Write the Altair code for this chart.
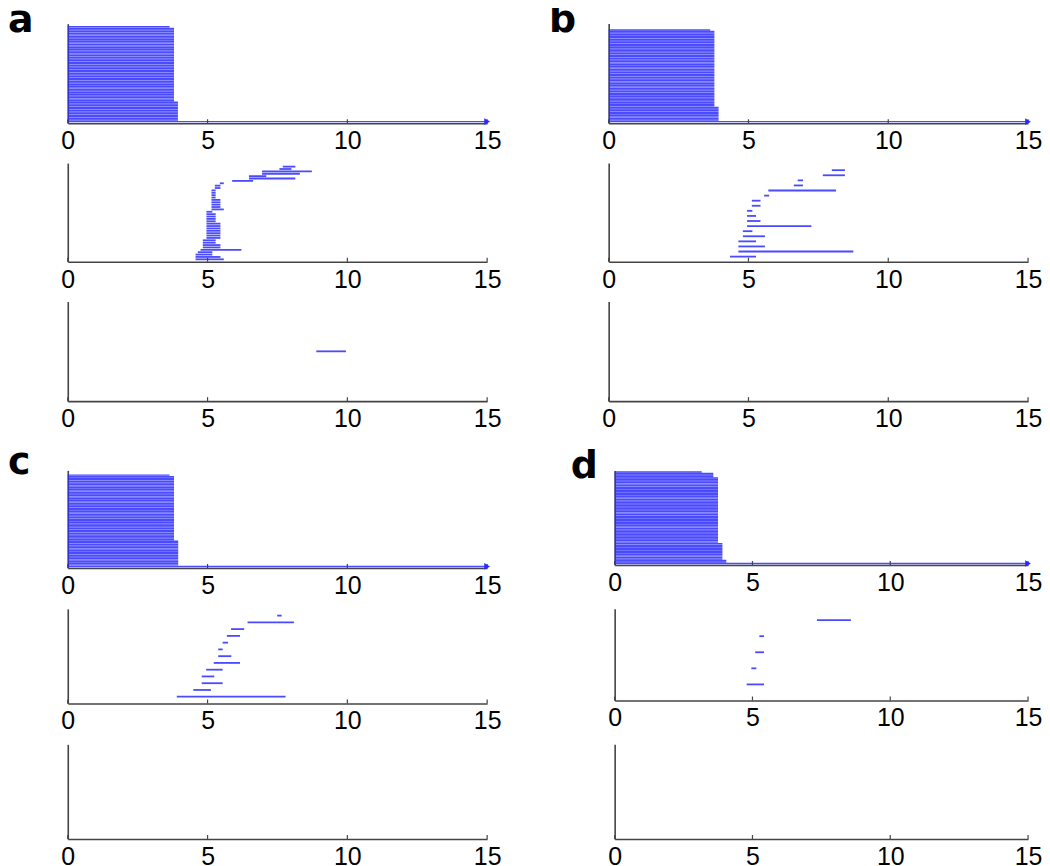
import altair as alt
import pandas as pd

X_TICKS = [0, 5, 10, 15]

# ---------- panel a ----------
# top raster: each row runs from 0 to its end value (rows listed bottom -> top)
A1_END = [15.0,
          3.94, 3.94, 3.94, 3.94, 3.94, 3.94, 3.94, 3.94, 3.94, 3.94, 3.94, 3.94,
          3.80, 3.80, 3.80, 3.80, 3.80, 3.80, 3.80, 3.80, 3.80, 3.80,
          3.80, 3.80, 3.80, 3.80, 3.80, 3.80, 3.80, 3.80, 3.80, 3.80,
          3.80, 3.80, 3.80, 3.80, 3.80, 3.80, 3.80, 3.80, 3.80, 3.80,
          3.80, 3.80, 3.80, 3.80, 3.80, 3.80, 3.80, 3.80, 3.80, 3.80,
          3.80, 3.80, 3.80, 3.80, 3.80, 3.80,
          3.64]
A2_START = [4.57, 4.57, 4.57, 4.65, 4.75, 4.83, 4.83, 4.83, 4.83, 4.96,
            4.96, 4.96, 4.96, 4.96, 4.96, 4.96, 4.96, 4.96, 4.96, 4.96,
            4.96, 5.14, 5.14, 5.14, 5.14, 5.14, 5.14, 5.14, 5.14, 5.14,
            5.26, 5.26, 5.44, 5.88, 6.48, 6.48, 6.95, 6.95, 7.57, 7.69]
A2_END = [5.58, 5.46, 5.17, 5.17, 6.21, 5.46, 5.46, 5.29, 5.29, 5.46,
          5.46, 5.46, 5.46, 5.46, 5.46, 5.46, 5.29, 5.29, 5.29, 5.29,
          5.17, 5.58, 5.46, 5.46, 5.46, 5.46, 5.29, 5.29, 5.29, 5.29,
          5.46, 5.46, 5.58, 6.63, 8.14, 7.10, 8.30, 8.73, 8.00, 8.14]
A3_START = [8.89]
A3_END = [9.95]

# ---------- panel b ----------
B1_END = [15.0,
          3.93, 3.93, 3.93, 3.93, 3.93, 3.93, 3.93, 3.93, 3.93,
          3.78, 3.78, 3.78, 3.78, 3.78, 3.78, 3.78, 3.78, 3.78, 3.78,
          3.78, 3.78, 3.78, 3.78, 3.78, 3.78, 3.78, 3.78, 3.78, 3.78,
          3.78, 3.78, 3.78, 3.78, 3.78, 3.78, 3.78, 3.78, 3.78, 3.78,
          3.78, 3.78, 3.78, 3.78, 3.78, 3.78, 3.78, 3.78, 3.78, 3.78,
          3.78, 3.78, 3.78, 3.78, 3.78, 3.78, 3.78, 3.78,
          3.63]
B2_START = [4.34, 4.64, 4.64, 4.64, 4.80, 4.80, 4.95, 4.95, 4.95, 4.95,
            5.12, 5.12, 5.56, 5.71, 6.62, 6.76, 7.66, 7.98]
B2_END = [5.27, 8.75, 5.59, 5.27, 5.59, 5.14, 7.25, 5.43, 5.27, 5.14,
          5.43, 5.43, 5.74, 8.13, 6.95, 6.95, 8.45, 8.45]
B3_START = []
B3_END = []

# ---------- panel c ----------
C1_END = [15.0,
          3.95, 3.95, 3.95, 3.95, 3.95, 3.95, 3.95, 3.95,
          3.95, 3.95, 3.95, 3.95, 3.95, 3.95, 3.95, 3.95,
          3.80, 3.80, 3.80, 3.80, 3.80, 3.80, 3.80, 3.80, 3.80, 3.80,
          3.80, 3.80, 3.80, 3.80, 3.80, 3.80, 3.80, 3.80, 3.80, 3.80,
          3.80, 3.80, 3.80, 3.80, 3.80, 3.80, 3.80, 3.80, 3.80, 3.80,
          3.80, 3.80, 3.80, 3.80, 3.80, 3.80, 3.80, 3.80, 3.80, 3.80,
          3.80,
          3.64]
C2_START = [3.90, 4.49, 4.79, 4.79, 4.95, 5.22, 5.38, 5.38, 5.54, 5.69,
            5.84, 6.43, 7.49]
C2_END = [7.79, 5.12, 5.54, 5.24, 5.54, 6.16, 5.85, 5.54, 5.73, 6.16,
          6.31, 8.09, 7.65]
C3_START = []
C3_END = []

# ---------- panel d ----------
D1_END = [15.0,
          4.05, 4.05,
          3.91, 3.91, 3.91, 3.91, 3.91, 3.91, 3.91, 3.91, 3.91, 3.91, 3.91,
          3.75, 3.75, 3.75, 3.75, 3.75, 3.75, 3.75, 3.75, 3.75, 3.75,
          3.75, 3.75, 3.75, 3.75, 3.75, 3.75, 3.75, 3.75, 3.75, 3.75,
          3.75, 3.75, 3.75, 3.75, 3.75, 3.75, 3.75, 3.75, 3.75, 3.75,
          3.75, 3.75, 3.75, 3.75, 3.75, 3.75, 3.75, 3.75, 3.75, 3.75,
          3.75, 3.75, 3.75,
          3.58, 3.58, 3.58,
          3.16]
D2_START = [4.79, 4.96, 5.10, 5.25, 7.34]
D2_END = [5.42, 5.14, 5.42, 5.42, 8.57]
D3_START = []
D3_END = []

BLUE = "#2a2aff"
AXIS_COLOR = "#444444"
LETTER_SIZE = 38


def subplot(starts, ends, ymax, width, height, dense=False, letter=None,
            letter_dx=-60, letter_dy=8):
    rows = list(range(1, len(ends) + 1))
    seg = pd.DataFrame({"start": [float(s) for s in starts],
                        "end": [float(e) for e in ends],
                        "row": rows})
    xscale = alt.Scale(domain=[0, 15], nice=False, zero=False)
    yscale = alt.Scale(domain=[0, ymax], nice=False, zero=False)
    xaxis = alt.Axis(values=X_TICKS, title=None, grid=False, ticks=False,
                     tickSize=0, labelPadding=5.5, labelFontSize=25,
                     labelFont="Liberation Sans", labelColor="black",
                     domainColor=AXIS_COLOR, domainWidth=1.6, labelFlush=False)
    yaxis = alt.Axis(title=None, grid=False, ticks=False, labels=False,
                     domainColor=AXIS_COLOR, domainWidth=1.6)

    tick_df = pd.DataFrame({"t": X_TICKS})
    ticks = alt.Chart(tick_df).mark_rule(color=AXIS_COLOR, strokeWidth=1.2).encode(
        x=alt.X("t:Q", scale=xscale, axis=xaxis),
        y=alt.value(height),
        y2=alt.value(height - 4),
    )
    segs = alt.Chart(seg).mark_rule(
        color=BLUE,
        strokeWidth=1.45 if dense else 1.8,
        opacity=0.85,
    ).encode(
        x=alt.X("start:Q", scale=xscale, axis=xaxis),
        x2="end:Q",
        y=alt.Y("row:Q", scale=yscale, axis=yaxis),
    )
    layers = [ticks, segs]
    if dense:
        arrow = alt.Chart(pd.DataFrame({"x": [ends[0]], "row": [1]})).mark_point(
            shape="triangle-right", filled=True, size=45, color=BLUE, opacity=1
        ).encode(
            x=alt.X("x:Q", scale=xscale, axis=xaxis),
            y=alt.Y("row:Q", scale=yscale, axis=yaxis),
        )
        layers.append(arrow)
    if letter is not None:
        # invisible anchor so every panel has the same top-left extent
        anchor = alt.Chart(pd.DataFrame({"label": ["."]})).mark_text(
            align="left", baseline="top", fontSize=10, opacity=0
        ).encode(x=alt.value(-60), y=alt.value(-26), text="label:N")
        txt = alt.Chart(pd.DataFrame({"label": [letter]})).mark_text(
            align="left", baseline="alphabetic", font="DejaVu Sans",
            fontWeight="bold", fontSize=LETTER_SIZE, color="black"
        ).encode(
            x=alt.value(letter_dx),
            y=alt.value(letter_dy),
            text="label:N",
        )
        layers += [anchor, txt]
    return alt.layer(*layers).properties(width=width, height=height)


W = 421
panel_a = alt.vconcat(
    subplot([0.0] * len(A1_END), A1_END, 62, W, 100, dense=True, letter="a"),
    subplot(A2_START, A2_END, 41.5, W, 99),
    subplot(A3_START, A3_END, 2, W, 100),
    spacing=40, bounds="flush",
)
panel_b = alt.vconcat(
    subplot([0.0] * len(B1_END), B1_END, 63, W, 100, dense=True, letter="b"),
    subplot(B2_START, B2_END, 19.4, W, 99),
    subplot(B3_START, B3_END, 1, W, 100),
    spacing=40, bounds="flush",
)
panel_c = alt.vconcat(
    subplot([0.0] * len(C1_END), C1_END, 62, W, 98, dense=True, letter="c",
            letter_dy=4),
    subplot(C2_START, C2_END, 14, W, 95),
    subplot(C3_START, C3_END, 1, W, 95),
    spacing=41, bounds="flush",
)
panel_d = alt.vconcat(
    subplot([0.0] * len(D1_END), D1_END, 62, 415, 95, dense=True, letter="d",
            letter_dx=-44),
    subplot(D2_START, D2_END, 5.7, 415, 92),
    subplot(D3_START, D3_END, 1, 415, 95),
    spacing=44, bounds="flush",
)

top = alt.hconcat(panel_a, panel_b, spacing=48)
bottom = alt.hconcat(panel_c, panel_d, spacing=54)

chart = alt.vconcat(top, bottom, spacing=12.5).properties(
    padding={"left": 0, "top": -12, "right": 0, "bottom": 0},
    background="white",
).configure_view(strokeWidth=0)

chart.save("out.html", embed_options={"renderer": "svg", "actions": False})
